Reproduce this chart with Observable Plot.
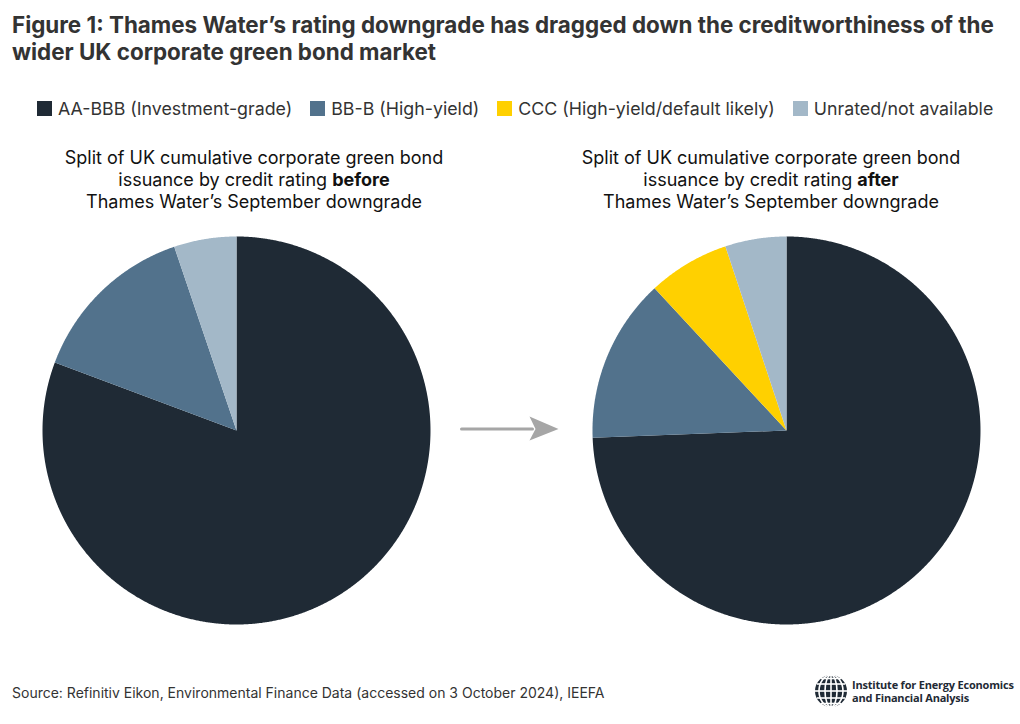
<!DOCTYPE html>
<html>
<head>
<meta charset="utf-8">
<script src="https://cdn.jsdelivr.net/npm/d3@7"></script>
<script src="https://cdn.jsdelivr.net/npm/@observablehq/plot@0.6"></script>
<style>
  html, body { margin: 0; padding: 0; background: #fff; }
  #wrap { position: relative; width: 1020px; height: 724px; overflow: hidden; font-family: Inter, "Noto Sans", sans-serif; color: #333; }
  #chart { position: absolute; left: 0; top: 0; }
  .abs { position: absolute; }
  #title { left: 12px; top: 11px; font-size: 22.4px; font-weight: 700; line-height: 27px; color: #333; white-space: nowrap; }
  #legend { left: 37px; top: 98px; font-size: 17.8px; display: flex; white-space: nowrap; color: #333; }
  .li { display: flex; align-items: center; margin-right: 18px; }
  .sw { width: 15px; height: 15px; margin-right: 6px; }
  .sub { width: 460px; text-align: center; font-size: 18px; line-height: 22px; color: #111; top: 147px; white-space: nowrap; }
  #source { left: 12px; top: 684px; font-size: 14px; color: #333; }
  #logo { left: 814px; top: 674px; display: flex; align-items: center; white-space: nowrap; }
  #logo .txt { font-family: "Open Sans", Inter, sans-serif; font-weight: 700; font-size: 11px; line-height: 13px; color: #1f2a35; margin-left: 4px; letter-spacing: -0.2px; }
</style>
</head>
<body>
<div id="wrap">
  <div id="chart"></div>
  <div id="title" class="abs">Figure 1: Thames Water’s rating downgrade has dragged down the creditworthiness of the<br>wider UK corporate green bond market</div>
  <div id="legend" class="abs"></div>
  <div class="abs sub" style="left:24px">Split of UK cumulative corporate green bond<br>issuance by credit rating <b>before</b><br>Thames Water’s September downgrade</div>
  <div class="abs sub" style="left:541px">Split of UK cumulative corporate green bond<br>issuance by credit rating <b>after</b><br>Thames Water’s September downgrade</div>
  <div id="source" class="abs">Source: Refinitiv Eikon, Environmental Finance Data (accessed on 3 October 2024), IEEFA</div>
  <div id="logo" class="abs">
    <svg width="34" height="34" viewBox="-17 -17 34 34">
      <circle r="16" fill="#1f2a35"/>
      <g stroke="#fff" stroke-width="1.6" fill="none">
        <ellipse rx="6" ry="16"/><ellipse rx="12" ry="16"/>
        <line x1="0" y1="-16" x2="0" y2="16"/>
        <line x1="-16" y1="0" x2="16" y2="0"/>
        <line x1="-14" y1="-7" x2="14" y2="-7"/><line x1="-14" y1="7" x2="14" y2="7"/>
        <line x1="-10" y1="-12.5" x2="10" y2="-12.5"/><line x1="-10" y1="12.5" x2="10" y2="12.5"/>
      </g>
    </svg>
    <div class="txt">Institute for Energy Economics<br>and Financial Analysis</div>
  </div>
</div>
<script>
// ---- data ----
const categories = ["AA-BBB (Investment-grade)", "BB-B (High-yield)", "CCC (High-yield/default likely)", "Unrated/not available"];
const colors = ["#1f2a35", "#52728c", "#ffd000", "#a3b8c8"];
const beforeValues = [80.7, 14.1, 0, 5.2];
const afterValues = [74.4, 13.7, 6.8, 5.1];

const W = 1020, H = 724;

// legend
const legend = document.getElementById("legend");
categories.forEach((c, i) => {
  const el = document.createElement("div");
  el.className = "li";
  el.innerHTML = `<span class="sw" style="background:${colors[i]}"></span><span>${c}</span>`;
  legend.appendChild(el);
});

function slices(values, cx, cy, r, pie) {
  const arcs = d3.pie().sort(null).value(d => d)(values);
  return arcs.filter(a => a.endAngle > a.startAngle).map(a => {
    const n = Math.max(2, Math.ceil((a.endAngle - a.startAngle) / 0.005));
    const pts = [[cx, cy]];
    for (let k = 0; k <= n; k++) {
      const ang = a.startAngle + (a.endAngle - a.startAngle) * k / n;
      pts.push([cx + r * Math.sin(ang), cy - r * Math.cos(ang)]);
    }
    pts.push([cx, cy]);
    return {type: "Feature", properties: {category: categories[a.index], pie, value: a.data},
            geometry: {type: "Polygon", coordinates: [pts]}};
  });
}

const features = [
  ...slices(beforeValues, 236, 430, 194, "before"),
  ...slices(afterValues, 786, 430, 194, "after")
];

const arrowShaft = {type: "LineString", coordinates: [[461, 428.5], [532, 428.5]]};
const arrowHead = {type: "Polygon", coordinates: [[[529, 416], [558, 428.5], [529, 440], [535, 428.5], [529, 416]]]};

const chart = Plot.plot({
  width: W,
  height: H,
  margin: 0,
  style: {background: "transparent"},
  projection: {type: "identity", domain: {type: "MultiPoint", coordinates: [[0, 0], [W, H]]}},
  color: {domain: categories, range: colors},
  marks: [
    Plot.geo(features, {fill: d => d.properties.category, stroke: null}),
    Plot.geo([arrowShaft], {stroke: "#a6a6a6", strokeWidth: 3, fill: "none"}),
    Plot.geo([arrowHead], {fill: "#a6a6a6", stroke: null})
  ]
});
document.getElementById("chart").appendChild(chart);
</script>
</body>
</html>
